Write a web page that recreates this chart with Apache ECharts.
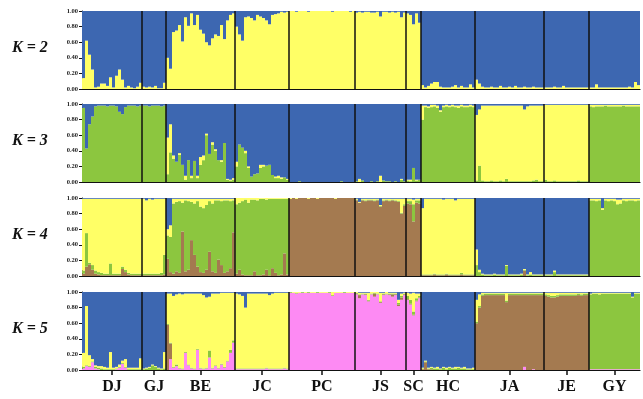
<!DOCTYPE html>
<html><head><meta charset="utf-8">
<script src="https://cdn.jsdelivr.net/npm/echarts@6/dist/echarts.min.js"></script>
<style>html,body{margin:0;padding:0;background:#fff}#c{width:643px;height:399px}</style>
</head><body><div id="c"></div>
<script>
// ---------------- data ----------------
const groups = ['DJ','GJ','BE','JC','PC','JS','SC','HC','JA','JE','GY'];
const groupSizes = [20, 8, 23, 18, 22, 17, 5, 18, 23, 15, 17];
const yTickLabels = ['0.00','0.20','0.40','0.60','0.80','1.00'];
const panelLabels = ['K = 2','K = 3','K = 4','K = 5'];

// membership coefficients in percent, per group (order as groups); blue = remainder to 100
// K = 2
const k2Yellow = [
  [14,62,44,25,2,3,7,7,4,15,2,17,25,12,2,4,2,1,3,8],
  [3,2,3,2,4,1,1,8],
  [40,26,73,75,82,61,92,81,97,82,95,76,71,60,56,65,70,68,82,64,88,95,97],
  [80,70,62,92,93,91,88,95,93,91,88,83,95,96,97,99,98,99],
  [100,100,99,100,100,100,99,100,100,100,100,100,100,100,99,100,100,100,100,100,99,100],
  [98,99,98,99,99,98,98,99,93,99,99,98,99,98,99,92,98],
  [97,95,83,97,85],
  [5,2,4,7,9,9,3,2,2,2,3,5,2,4,2,2,6,2],
  [12,7,3,2,2,3,2,2,4,2,2,3,2,4,2,2,3,2,2,3,2,2,2],
  [2,2,2,3,2,2,4,2,2,2,2,2,2,2,2],
  [2,2,6,2,2,2,2,2,2,2,2,2,2,3,2,9,5]
];
// K = 3
const k3Green = [
  [95,43,74,84,97,98,98,98,97,98,98,97,90,87,96,98,98,98,97,98],
  [98,98,97,98,98,98,97,98],
  [10,38,30,26,35,22,3,28,5,27,5,22,28,60,36,48,40,28,26,50,3,2,3],
  [20,48,44,37,18,7,10,11,18,20,21,22,9,5,5,4,6,3],
  [0,0,0,1,0,0,0,0,0,0,0,0,0,0,0,0,0,1,0,0,0,0],
  [1,0,2,0,0,1,0,1,0,2,1,1,0,1,0,3,1],
  [2,1,18,2,3],
  [80,96,95,96,97,95,90,96,97,96,97,96,95,97,96,96,97,96],
  [2,21,2,1,1,2,1,1,2,1,4,1,1,1,1,1,1,1,1,2,3,1,1],
  [3,1,1,2,1,1,1,1,1,1,1,2,1,1,1],
  [97,96,97,97,97,98,97,97,97,97,97,98,97,97,97,97,97]
];
const k3Yellow = [
  [0,0,0,0,0,0,0,0,0,0,0,0,0,0,0,0,0,0,0,0],
  [0,0,0,0,0,0,0,0],
  [47,36,4,0,2,0,5,0,3,0,3,10,6,2,0,3,2,0,2,0,1,1,2],
  [6,0,0,3,2,0,0,0,4,2,0,0,0,2,3,2,0,1],
  [0,0,0,0,0,0,0,0,0,0,0,0,0,0,0,0,0,0,0,0,0,0],
  [0,4,0,0,0,0,0,0,8,0,0,0,0,0,0,1,0],
  [1,2,0,1,0],
  [18,2,2,3,2,3,2,2,2,2,2,2,3,2,2,2,2,2],
  [84,72,96,97,97,96,97,97,96,97,94,97,97,97,97,97,92,96,97,96,95,97,97],
  [96,98,98,97,98,98,98,98,98,98,98,97,98,98,98],
  [2,3,2,2,2,1,2,2,2,2,2,1,2,2,2,2,2]
];
// K = 4
const k4Brown = [
  [3,12,15,8,3,2,1,1,1,1,1,1,1,9,5,2,1,1,1,1],
  [1,1,1,1,1,1,1,2],
  [22,5,3,6,4,57,6,8,46,27,12,5,4,8,31,6,4,21,14,4,6,10,56],
  [3,8,2,1,1,1,6,1,1,2,8,1,10,4,1,2,29,2],
  [99,100,99,100,100,100,99,100,100,99,100,100,100,100,100,99,100,100,100,100,100,100],
  [97,94,97,96,97,97,96,97,89,96,97,96,97,96,95,80,90],
  [93,92,70,94,93],
  [1,1,1,1,2,1,1,1,2,1,1,1,1,2,1,1,1,1],
  [0,0,0,0,0,0,0,0,0,0,0,0,0,0,0,0,7,0,0,0,0,0,0],
  [0,0,0,0,0,0,0,0,0,0,0,0,0,0,0],
  [0,0,0,0,0,0,0,0,0,0,0,0,0,0,0,0,0]
];
const k4Green = [
  [4,43,2,6,4,3,3,2,2,15,2,2,2,3,3,2,2,2,2,2],
  [2,2,2,2,2,2,3,25],
  [30,45,90,89,92,37,91,88,49,66,84,84,83,83,65,87,93,76,82,93,91,86,41],
  [89,86,94,97,93,97,92,96,98,97,90,98,89,95,98,97,70,97],
  [0,0,0,0,0,0,0,0,0,0,0,0,0,0,0,0,0,0,0,0,0,0],
  [1,0,1,1,1,1,1,1,1,1,1,1,1,1,1,1,2],
  [3,4,22,3,4],
  [1,1,1,1,1,1,1,1,1,1,1,1,1,2,1,1,1,1],
  [14,5,2,1,1,1,2,1,1,1,13,1,1,1,1,2,1,1,2,1,1,1,1],
  [1,1,1,5,1,1,1,1,1,1,1,1,1,1,1],
  [97,97,96,97,85,97,96,97,96,92,93,97,96,97,97,96,97]
];
const k4Yellow = [
  [92,44,82,85,92,94,95,96,96,83,96,96,96,87,91,95,96,96,96,96],
  [96,94,96,95,96,96,95,72],
  [8,15,6,4,3,5,2,3,4,6,3,10,12,8,3,6,2,2,3,2,2,3,2],
  [8,6,4,2,6,2,2,3,1,1,2,1,1,1,1,1,1,1],
  [1,0,1,0,0,0,1,0,0,1,0,0,0,0,0,1,0,0,0,0,0,0],
  [1,1,1,2,1,1,2,1,1,2,1,2,1,2,3,18,7],
  [3,3,6,2,2],
  [85,97,97,97,96,97,97,96,96,97,97,95,97,95,97,97,97,97],
  [20,3,1,1,1,1,1,1,1,1,1,1,1,1,1,1,1,1,3,1,1,1,1],
  [1,1,1,2,1,1,1,1,1,1,1,1,1,1,1],
  [2,2,3,2,2,2,3,2,3,6,5,2,3,2,2,3,2]
];
// K = 5
const k5Pink = [
  [2,5,4,10,2,1,0,0,0,0,0,1,3,8,3,0,0,0,0,0],
  [0,0,0,0,0,0,0,0],
  [0,14,3,5,2,1,22,6,2,1,26,2,1,2,16,2,5,2,7,3,11,22,35],
  [1,1,1,1,1,1,1,1,1,1,2,1,1,1,1,1,2,1],
  [99,99,98,99,99,99,99,99,99,99,99,99,99,99,95,99,99,99,99,99,99,99],
  [97,92,97,96,88,97,94,97,86,96,97,96,94,96,82,90,96],
  [90,84,70,88,92],
  [0,0,0,0,0,0,0,0,0,0,0,0,0,0,0,0,0,0],
  [0,0,0,0,0,0,0,0,0,0,0,0,0,0,0,0,4,0,0,1,0,0,0],
  [0,0,0,0,0,0,0,0,0,0,0,0,0,0,0],
  [1,1,1,1,1,1,1,1,1,1,1,1,1,1,1,1,1]
];
const k5Brown = [
  [0,0,0,0,0,0,0,0,0,0,0,0,0,0,0,0,0,0,0,0],
  [0,0,0,0,0,0,0,0],
  [58,20,0,0,0,0,0,0,0,0,0,0,0,0,0,0,0,0,0,0,0,0,0],
  [0,0,0,0,0,0,0,0,0,0,0,0,0,0,0,0,0,0],
  [0,0,0,0,0,0,0,0,0,0,0,0,0,0,0,0,0,0,0,0,0,0],
  [1,4,0,1,1,0,4,0,1,1,0,1,3,1,2,3,1],
  [1,1,1,1,1],
  [1,10,1,1,0,0,0,0,0,0,0,0,0,0,0,0,0,0],
  [60,80,95,96,96,96,96,96,96,96,87,96,96,96,96,96,92,96,96,95,96,96,96],
  [95,94,93,93,94,95,95,95,95,95,95,96,95,96,96],
  [0,0,0,0,0,0,0,0,0,0,0,0,0,0,0,0,0]
];
const k5Green = [
  [2,1,1,1,2,2,2,1,1,1,1,1,1,1,1,1,1,1,1,1],
  [1,2,3,6,4,2,1,2],
  [1,1,1,2,1,1,1,1,1,1,1,1,1,1,9,1,1,1,1,1,1,4,3],
  [1,1,1,1,1,1,1,1,1,1,1,1,1,1,1,1,1,1],
  [1,0,1,0,1,0,1,0,0,1,0,0,0,1,1,0,0,0,1,0,0,0],
  [1,1,1,1,1,1,1,1,1,1,1,1,1,1,2,2,1],
  [4,5,4,3,2],
  [1,1,1,2,2,2,1,3,1,3,2,2,3,2,2,1,1,1],
  [2,2,2,2,2,2,2,2,2,2,2,2,2,2,2,2,2,2,2,2,2,2,2],
  [2,2,2,2,2,2,2,2,2,2,2,2,2,2,2],
  [96,97,97,96,97,97,97,97,97,97,97,97,97,97,92,97,97]
];
const k5Yellow = [
  [18,76,14,3,2,2,3,3,2,22,2,2,3,3,10,2,2,2,2,14],
  [1,1,1,1,1,1,1,21],
  [39,63,91,90,95,95,75,91,95,96,71,95,94,90,69,95,92,95,91,95,87,73,61],
  [96,95,93,78,96,96,96,96,96,96,95,94,96,97,97,97,96,97],
  [0,1,1,1,0,1,0,1,1,0,1,1,1,0,4,1,1,1,0,1,1,1],
  [1,2,1,1,9,2,1,2,11,1,2,1,1,1,4,3,1],
  [4,8,24,6,3],
  [1,1,1,1,1,2,1,1,2,1,1,2,1,1,2,1,1,2],
  [28,15,2,1,1,1,1,1,1,1,10,1,1,1,1,1,1,1,1,1,1,1,1],
  [2,3,4,4,3,2,2,2,2,2,2,1,2,1,1],
  [1,1,1,2,1,1,1,1,1,1,1,1,1,1,1,1,1]
];

// ---------------- styling ----------------
const COL = {blue:'#3d67b1', yellow:'#ffff66', green:'#8cc63f', brown:'#a47a50', pink:'#fd8af3'};
const panels = [
  [['yellow', k2Yellow]],
  [['green', k3Green], ['yellow', k3Yellow]],
  [['brown', k4Brown], ['green', k4Green], ['yellow', k4Yellow]],
  [['pink', k5Pink], ['brown', k5Brown], ['green', k5Green], ['yellow', k5Yellow]]
];
const tops = [11, 104, 198, 292];
const H = 78, LEFT = 82, WIDTH = 558;
const N = groupSizes.reduce((a,b)=>a+b,0);
const idx = Array.from({length:N}, (_,i)=>String(i));
const bounds = []; const centers = [];
{ let c = 0; groupSizes.forEach((s,i)=>{ centers.push(c + s/2); c += s; if (i < groupSizes.length-1) bounds.push(c); }); }

const grid = [], xAxis = [], yAxis = [], series = [], graphic = [];
panels.forEach((comps, p) => {
  grid.push({left: LEFT, width: WIDTH, top: tops[p], height: H});
  xAxis.push({type:'category', gridIndex:p, data: idx, boundaryGap:true,
    axisLine:{show:true, lineStyle:{color:'#111', width:1.2}}, axisTick:{show:false}, axisLabel:{show:false}, splitLine:{show:false}});
  const last = p === panels.length-1;
  xAxis.push({type:'value', gridIndex:p, min:0, max:N, position:'bottom', show: last,
    axisLine:{show:false}, splitLine:{show:false},
    axisTick:{show:last, customValues: centers, length:5, lineStyle:{color:'#111', width:1.5}},
    axisLabel:{show:last, customValues: centers, margin:9,
      formatter: v => { let k = 0, d = 1e9; centers.forEach((c,i)=>{ if (Math.abs(c-v) < d) { d = Math.abs(c-v); k = i; } }); return groups[k]; },
      fontFamily:'Liberation Serif', fontWeight:'bold', fontSize:16, color:'#111'}});
  yAxis.push({type:'value', gridIndex:p, min:0, max:100, interval:20,
    axisLine:{show:true, lineStyle:{color:'#111', width:1}},
    axisTick:{show:true, length:3, lineStyle:{color:'#111'}},
    splitLine:{show:false},
    axisLabel:{margin:4, fontFamily:'Liberation Serif', fontWeight:'bold', fontSize:6.5, color:'#222',
      formatter: v => yTickLabels[Math.round(v/20)]}});
  const flats = comps.map(c => c[1].flat());
  const blue = idx.map((_,i) => Math.max(0, 100 - flats.reduce((s,a)=>s + a[i], 0)));
  const all = comps.map((c,j)=>[c[0], flats[j]]).concat([['blue', blue]]);
  all.forEach(([name, data]) => {
    series.push({type:'bar', name, stack:'k'+p, xAxisIndex:2*p, yAxisIndex:p, data,
      barCategoryGap:0, silent:true,
      itemStyle:{color:COL[name]}});
  });
  series.push({type:'custom', xAxisIndex:2*p+1, yAxisIndex:p, data: bounds, silent:true, z:10,
    renderItem:(params, api) => {
      const b = api.value(0);
      const p0 = api.coord([b, 0]), p1 = api.coord([b, 100]);
      return {type:'line', shape:{x1:p0[0], y1:p0[1], x2:p1[0], y2:p1[1]}, style:{stroke:'#111', lineWidth:1.5}};
    }});
  graphic.push({type:'text', left:12, top: tops[p] + H/2 - 10,
    style:{text: panelLabels[p], font:'italic bold 16px "Liberation Serif"', fill:'#111'}});
});

const chart = echarts.init(document.getElementById('c'), null, {renderer:'canvas'});
chart.setOption({animation:false, backgroundColor:'#fff', grid, xAxis, yAxis, series, graphic});
</script></body></html>
